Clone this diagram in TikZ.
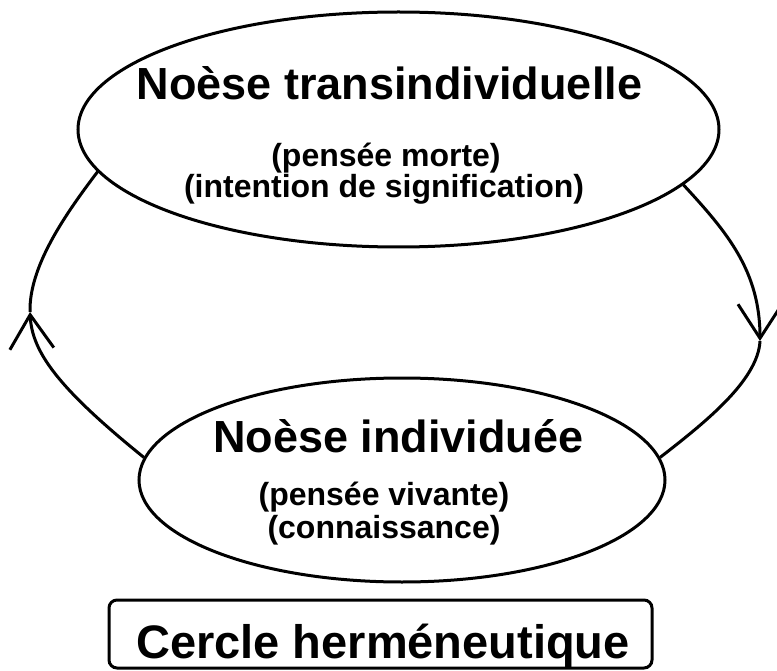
\documentclass[tikz,border=0pt]{standalone}
\usepackage{fontspec}
\setmainfont{Liberation Sans}
\usetikzlibrary{arrows.meta,shapes.geometric}
\begin{document}
\begin{tikzpicture}[x=1pt,y=-1pt,
  ell/.style={draw, ellipse, line width=3pt, inner sep=0pt},
  conn/.style={line width=3pt},
  tipstyle/.style={-{Straight Barb[length=34pt,width=44pt]}},
  titletext/.style={anchor=base, font=\bfseries\fontsize{45}{54}\selectfont},
  subtext/.style={anchor=base, font=\bfseries\fontsize{32}{38}\selectfont},
  labeltext/.style={anchor=base, font=\bfseries\fontsize{47}{56}\selectfont},
  framebox/.style={draw, line width=3pt, rounded corners=8pt, inner sep=0pt}
]
\useasboundingbox (0,0) rectangle (777,671);
\node[ell, minimum width=641pt, minimum height=235pt] (top) at (398.5,129.5) {};
\node[ell, minimum width=526pt, minimum height=204pt] (bot) at (402,480) {};
\coordinate (tipL) at (30,312);
\coordinate (tipR) at (760,341);
\draw[conn, tipstyle] (bot.175) .. controls (58,388) and (32,352) .. (tipL);
\draw[conn] (tipL) .. controls (29,267) and (64,216) .. (top.188);
\draw[conn, tipstyle] (top.349) .. controls (727,232) and (760,271) .. (tipR);
\draw[conn] (tipR) .. controls (758,381) and (703,424) .. (bot.5);
\node[titletext] (t1) at (389.5,100) {Noèse transindividuelle};
\node[subtext] (t2) at (386,167) {(pensée morte)};
\node[subtext] (t3) at (384,198) {(intention de signification)};
\node[titletext] (b1) at (398.5,452) {Noèse individuée};
\node[subtext] (b2) at (384,505) {(pensée vivante)};
\node[subtext] (b3) at (384,538) {(connaissance)};
\node[framebox, minimum width=543pt, minimum height=68pt] (box) at (380.5,634) {};
\node[labeltext] (lbl) at (383,658) {Cercle herméneutique};
\end{tikzpicture}
\end{document}
